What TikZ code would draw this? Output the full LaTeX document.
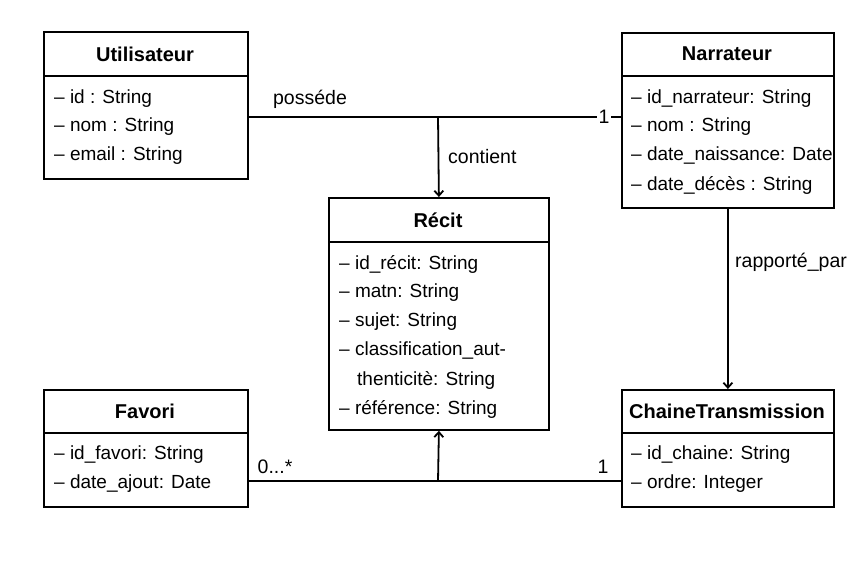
\documentclass[tikz,border=0pt]{standalone}
\usepackage{fontspec}
\setmainfont{Liberation Sans}
\usetikzlibrary{arrows.meta}
\begin{document}
\begin{tikzpicture}[x=1pt,y=-1pt,
  cls/.style={draw, line width=1.8pt, anchor=north west, inner sep=0pt, minimum width=#1},
  divider/.style={line width=1.8pt},
  ttl/.style={font=\fontsize{20}{23}\selectfont\bfseries, inner sep=0pt},
  attr/.style={font=\fontsize{19}{22}\selectfont, anchor=west, inner sep=0pt},
  lbl/.style={font=\fontsize{19.5}{22}\selectfont, inner sep=0pt},
  conn/.style={line width=1.8pt},
  arr/.style={line width=1.8pt, -{Straight Barb[length=5pt,width=9pt]}}]
\useasboundingbox[fill=white] (0,0) rectangle (858,583);

% Utilisateur
\node[cls=204pt, minimum height=147pt] (util) at (43,31) {};
\draw[divider] (43,76) -- (247,76);
\node[ttl] (utilT) at (145,54) {Utilisateur};
\node[attr] (u1) at (54,99) {– id : String};
\node[attr] (u2) at (54,127) {– nom : String};
\node[attr] (u3) at (54,156) {– email : String};

% Narrateur
\node[cls=212pt, minimum height=175pt] (narr) at (621,32) {};
\draw[divider] (621,76) -- (833,76);
\node[ttl] (narrT) at (727,54) {Narrateur};
\node[attr] (n1) at (631,99) {– id\_narrateur: String};
\node[attr] (n2) at (631,127) {– nom : String};
\node[attr] (n3) at (631,156) {– date\_naissance: Date};
\node[attr] (n4) at (631,185) {– date\_décès : String};

% Recit
\node[cls=220pt, minimum height=232pt] (recit) at (328,197) {};
\draw[divider] (328,242) -- (548,242);
\node[ttl] (recitT) at (438,220) {Récit};
\node[attr] (r1) at (339,264) {– id\_récit: String};
\node[attr] (r2) at (339,293) {– matn: String};
\node[attr] (r3) at (339,322) {– sujet: String};
\node[attr] (r4) at (339,351) {– classification\_aut-};
\node[attr] (r5) at (357,380) {thenticitè: String};
\node[attr] (r6) at (339,409) {– référence: String};

% Favori
\node[cls=204pt, minimum height=117pt] (fav) at (43,389) {};
\draw[divider] (43,433) -- (247,433);
\node[ttl] (favT) at (145,411) {Favori};
\node[attr] (f1) at (54,455) {– id\_favori: String};
\node[attr] (f2) at (54,484) {– date\_ajout: Date};

% ChaineTransmission
\node[cls=212pt, minimum height=117pt] (chaine) at (621,389) {};
\draw[divider] (621,433) -- (833,433);
\node[ttl] (chaineT) at (727,411) {ChaineTransmission};
\node[attr] (c1) at (631,455) {– id\_chaine: String};
\node[attr] (c2) at (631,484) {– ordre: Integer};

% connectors
\coordinate (j1) at (438,117);
\coordinate (j2) at (438,481);
\draw[conn] (j1 -| util.east) -- (j1 -| narr.west);
\node[lbl, fill=white, inner sep=2pt] (one1) at (604,117) {1};
\node[lbl] (poss) at (310,99) {posséde};
\draw[arr] (j1) -- (recit.north);
\node[lbl, anchor=west] (cont) at (448,157) {contient};

\draw[arr] (narr.south) -- (chaine.north);
\node[lbl, anchor=west] (rapp) at (735,262) {rapporté\_par};

\draw[conn] (j2 -| fav.east) -- (j2 -| chaine.west);
\draw[arr] (j2) -- (recit.south);
\node[lbl] (mult) at (275,467) {0...*};
\node[lbl] (one2) at (603,467) {1};
\end{tikzpicture}
\end{document}
